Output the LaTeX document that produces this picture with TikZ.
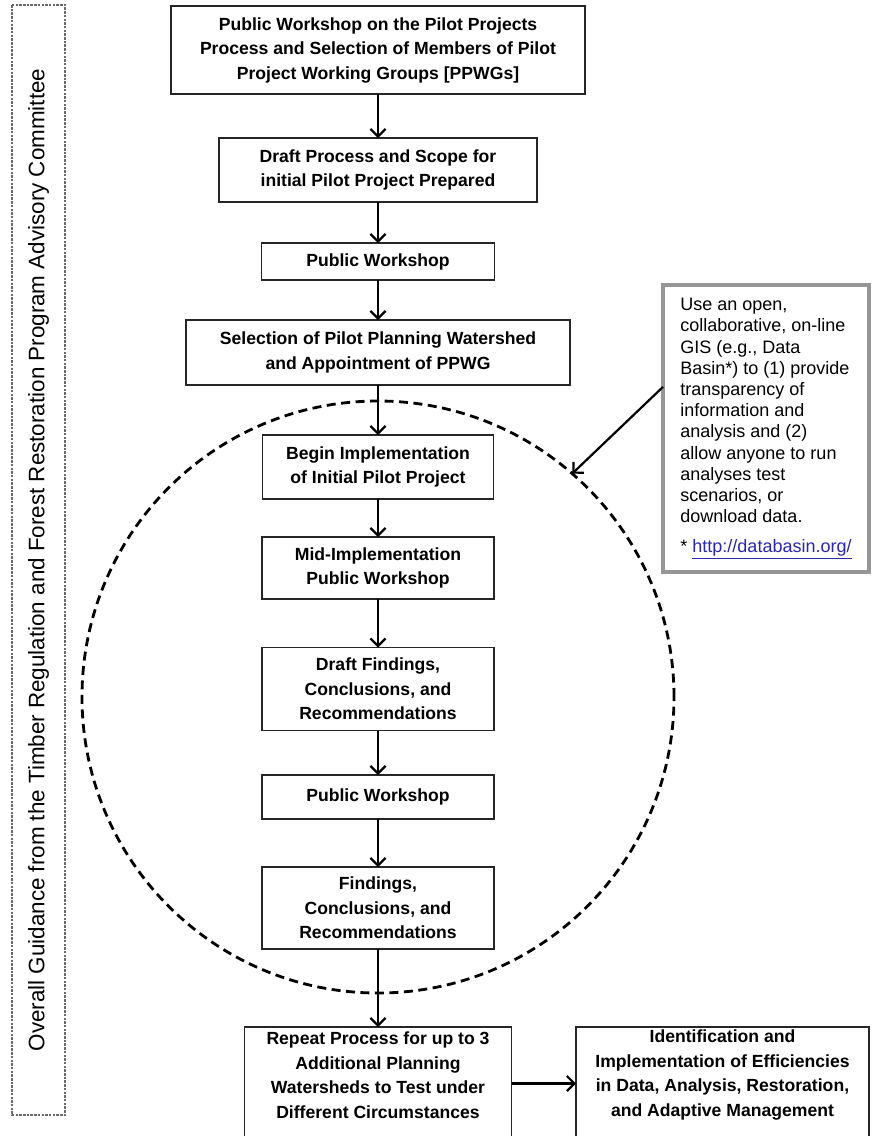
\documentclass[tikz,border=0pt]{standalone}
\usepackage{fontspec}
\setmainfont{Liberation Sans}
\usepackage{tikz}
\usetikzlibrary{arrows.meta,shapes.geometric}
\definecolor{notegray}{RGB}{150,150,150}
\definecolor{guidegray}{RGB}{105,105,105}
\definecolor{linkblue}{RGB}{40,40,170}
\tikzstyle{process} = [rectangle, draw=black!85, line width=1.6pt, fill=white, text centered, align=center, inner sep=4pt, font=\fontsize{17.6}{24.5}\selectfont\bfseries]
\tikzstyle{boxtext} = [align=center, inner sep=0pt, font=\fontsize{17.6}{24.5}\selectfont\bfseries]
\tikzstyle{note} = [rectangle, draw=notegray, line width=4pt, align=left, font=\fontsize{18}{21.2}\selectfont]
\tikzstyle{guide} = [rectangle, draw=guidegray, line width=1.3pt, dash pattern=on 2.5pt off 1.2pt, font=\fontsize{22.4}{26}\selectfont]
\tikzstyle{cycleline} = [circle, draw=black, line width=2.8pt, dash pattern=on 9pt off 5.5pt]
\tikzstyle{flow} = [->, line width=2.2pt]

\begin{document}
\begin{tikzpicture}[x=1pt,y=-1pt,>={Straight Barb[length=7.5pt,width=15pt]},every node/.style={outer sep=0pt}]
\useasboundingbox (0,0) rectangle (872,1136);
% dashed loop round the pilot project
\node[cycleline, minimum size=592] (cycle) at (378,697) {};
% left side guidance
\node[guide, rotate=90, minimum width=1110, minimum height=53] (guide) at (38.5,560)
    {Overall Guidance from the Timber Regulation and Forest Restoration Program Advisory Committee};
% main column
\node[process, minimum width=414, minimum height=88] (pubws) at (378,50)
    {Public Workshop on the Pilot Projects\\Process and Selection of Members of Pilot\\Project Working Groups [PPWGs]};
\node[process, minimum width=318, minimum height=64] (draft) at (378,170)
    {Draft Process and Scope for\\initial Pilot Project Prepared};
\node[process, minimum width=233, minimum height=37] (ws1) at (378,261.5) {Public Workshop};
\node[process, minimum width=384, minimum height=65] (select) at (378,352.5)
    {Selection of Pilot Planning Watershed\\and Appointment of PPWG};
\node[process, minimum width=231, minimum height=64] (begin) at (378,467)
    {Begin Implementation\\of Initial Pilot Project};
\node[process, minimum width=232, minimum height=62] (midws) at (378,568)
    {Mid-Implementation\\Public Workshop};
\node[process, minimum width=232, minimum height=83] (dfind) at (378,689)
    {Draft Findings,\\Conclusions, and\\Recommendations};
\node[process, minimum width=232, minimum height=44] (ws2) at (378,797) {Public Workshop};
\node[process, minimum width=232, minimum height=82] (final) at (378,908)
    {Findings,\\Conclusions, and\\Recommendations};
% bottom row, cut off by the page edge
\node[process, minimum width=267, minimum height=113] (repeat) at (378,1083.5) {};
\node[boxtext] (repeattxt) at (378,1075)
    {Repeat Process for up to 3\\Additional Planning\\Watersheds to Test under\\Different Circumstances};
\node[process, minimum width=293, minimum height=113] (ident) at (722.5,1083.5) {};
\node[boxtext] (identtxt) at (722.5,1075)
    {Identification and\\Implementation of Efficiencies\\in Data, Analysis, Restoration,\\and Adaptive Management};
% GIS note
\node[note, minimum width=206, minimum height=287] (note) at (766,428.5)
    {Use an open,\\collaborative, on-line\\GIS (e.g., Data\\Basin*) to (1) provide\\transparency of\\information and\\analysis and (2)\\allow anyone to run\\analyses test\\scenarios, or\\download data.\\[9pt]* \textcolor{linkblue}{\underline{http://databasin.org/}}};

\draw[flow] (pubws) -- (draft);
\draw[flow] (draft) -- (ws1);
\draw[flow] (ws1) -- (select);
\draw[flow] (select) -- (begin);
\draw[flow] (begin) -- (midws);
\draw[flow] (midws) -- (dfind);
\draw[flow] (dfind) -- (ws2);
\draw[flow] (ws2) -- (final);
\draw[flow] (final) -- (repeat);
\draw[flow] (repeat.east) -- (ident.west);
\draw[flow] (note.158) -- (cycle.49);
\end{tikzpicture}
\end{document}
